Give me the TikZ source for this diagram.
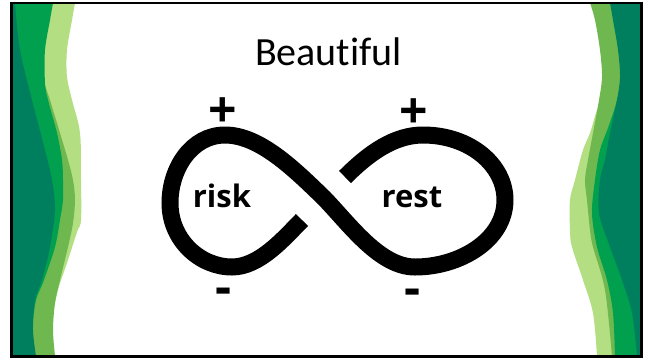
\documentclass[tikz,border=0pt]{standalone}
\usepackage{fontspec}
\setmainfont{Carlito}[Ligatures=NoCommon]
\newfontfamily\labelfont{Open Sans}
\usepackage{tikz}
\definecolor{deepteal}{HTML}{007F5F}
\definecolor{leaf}{HTML}{00A04F}
\definecolor{moss}{HTML}{6FB84F}
\definecolor{lime}{HTML}{B3DE81}
\tikzset{
  loopword/.style={anchor=base,font=\labelfont\bfseries\fontsize{31}{36}\selectfont},
  signmark/.style={anchor=north,inner sep=0pt,font=\labelfont\bfseries\fontsize{50}{60}\selectfont},
  wave/.style={smooth,tension=0.55}
}

\begin{document}
\begin{tikzpicture}[x=1pt,y=-1pt]
  \useasboundingbox (0,0) rectangle (649,360);
  \fill[white] (0,0) rectangle (649,360);

  % left edge ribbons
  \fill[lime] (11,3) -- plot[wave] coordinates {(75,3) (72,20) (67,50) (67,77) (72,100) (80,133) (81,180) (81,220) (77,232) (67,263) (58,290) (52,320) (50,356)} -- (11,356) -- cycle;
  \fill[moss] (11,3) -- plot[wave] coordinates {(40,3) (42,50) (44,80) (50,100) (60,133) (68,160) (73,180) (75,200) (73,223) (68,247) (60,280) (55,303) (53,330) (55,356)} -- (11,356) -- cycle;
  \fill[leaf] (11,3) -- plot[wave] coordinates {(53,3) (50,20) (45,50) (45,83) (48,100) (57,133) (62,160) (63,180) (63,200) (60,220) (55,247) (44,280) (35,305) (30,356)} -- (11,356) -- cycle;
  \fill[deepteal] (11,3) -- plot[wave] coordinates {(15,3) (20,50) (32,100) (45,150) (52,180) (55,210) (50,247) (42,280) (35,300) (33,330) (36,356)} -- (11,356) -- cycle;

  % right edge ribbons
  \fill[lime] (641,3) -- plot[wave] coordinates {(620,3) (612,60) (605,90) (597,110) (590,133) (583,150) (575,180) (570,200) (570,230) (572,247) (583,280) (593,313) (597,356)} -- (641,356) -- cycle;
  \fill[moss] (641,3) -- plot[wave] coordinates {(590,3) (595,20) (600,50) (602,77) (599,100) (593,133) (588,160) (585,180) (587,200) (590,230) (593,247) (605,290) (612,356)} -- (641,356) -- cycle;
  \fill[leaf] (641,3) -- plot[wave] coordinates {(630,3) (625,60) (617,100) (608,128) (600,150) (595,180) (592,213) (597,247) (607,280) (613,313) (615,356)} -- (641,356) -- cycle;
  \fill[deepteal] (641,3) -- plot[wave] coordinates {(610,3) (613,20) (618,50) (620,77) (617,100) (610,133) (605,160) (600,180) (599,213) (610,247) (622,280) (632,313) (637,356)} -- (641,356) -- cycle;

  \draw[black,line width=2.6pt] (11.3,2.8) rectangle (641.3,356.5);

  \node[anchor=base,font=\fontsize{40}{48}\selectfont] (title) at (328.5,65) {Beautiful};

  % infinity loop, broken at the crossing
  \draw[line width=17pt] (345,177) .. controls (370,152) and (395,135) .. (423,135)
      .. controls (470,135) and (505,165) .. (505,200)
      .. controls (505,240) and (460,267) .. (415,267)
      .. controls (380,267) and (350,225) .. (324,198)
      .. controls (295,170) and (260,135) .. (225,135)
      .. controls (192,135) and (170,168) .. (170,203)
      .. controls (170,240) and (200,267) .. (232,267)
      .. controls (260,267) and (285,237) .. (302,220);

  \node[loopword] (risk) at (222,207) {risk};
  \node[loopword] (rest) at (412,207) {rest};
  \node[signmark] (plusL) at (222.5,97.5) {+};
  \node[signmark] (plusR) at (413.3,98) {+};
  \node[signmark] (minusL) at (223.3,287.5) {-};
  \node[signmark] (minusR) at (413,288.5) {-};
\end{tikzpicture}
\end{document}
